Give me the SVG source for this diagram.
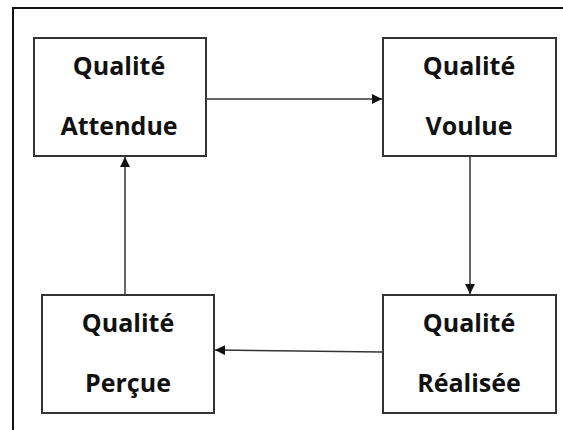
<svg xmlns="http://www.w3.org/2000/svg" width="563" height="430" viewBox="0 0 563 430">
<defs>
<marker id="arr" viewBox="0 0 10 10" refX="10" refY="5" markerWidth="10" markerHeight="10" markerUnits="userSpaceOnUse" orient="auto">
<path d="M0,0 L10,5 L0,10 Z" fill="#111"/>
</marker>
</defs>
<style>
.box{fill:#fff;stroke:#333;stroke-width:2}
.lbl{font-family:"Open Sans","Liberation Sans",sans-serif;font-weight:bold;font-size:25px;fill:#111;text-anchor:middle}
.con{stroke:#333;stroke-width:1.5;fill:none;marker-end:url(#arr)}
</style>
<rect width="563" height="430" fill="#fff"/>
<path d="M13,430 V8 H563" fill="none" stroke="#111" stroke-width="2"/>
<g id="connectors">
<line class="con" x1="207" y1="99" x2="382" y2="99"/>
<line class="con" x1="470" y1="157" x2="470" y2="294"/>
<line class="con" x1="382" y1="352" x2="215" y2="350"/>
<line class="con" x1="125" y1="294" x2="125" y2="157"/>
</g>
<g id="attendue">
<rect class="box" x="34" y="38" width="172" height="118"/>
<text class="lbl" x="119" y="75">Qualité</text>
<text class="lbl" x="119" y="135">Attendue</text>
</g>
<g id="voulue">
<rect class="box" x="383" y="38" width="173" height="118"/>
<text class="lbl" x="469" y="75">Qualité</text>
<text class="lbl" x="469" y="135">Voulue</text>
</g>
<g id="realisee">
<rect class="box" x="383" y="295" width="173" height="118"/>
<text class="lbl" x="469" y="332">Qualité</text>
<text class="lbl" x="469" y="392">Réalisée</text>
</g>
<g id="percue">
<rect class="box" x="42" y="295" width="172" height="118"/>
<text class="lbl" x="128" y="332">Qualité</text>
<text class="lbl" x="128" y="392">Perçue</text>
</g>
</svg>
